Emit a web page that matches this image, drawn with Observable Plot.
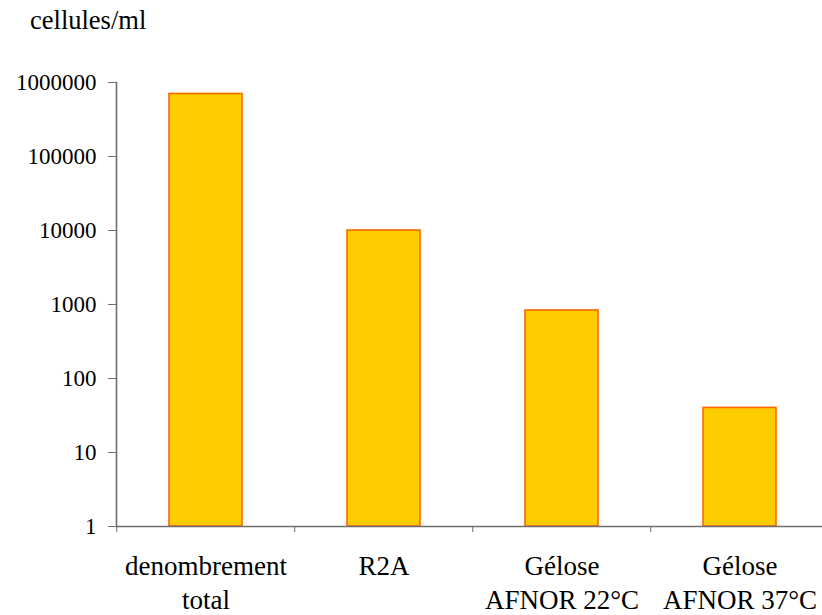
<!DOCTYPE html>
<html>
<head>
<meta charset="utf-8">
<script src="https://cdn.jsdelivr.net/npm/d3@7"></script>
<script src="https://cdn.jsdelivr.net/npm/@observablehq/plot@0.6"></script>
<style>
  #wrap, #wrap *, #wrap svg text, #wrap svg tspan, #wrap svg g { font-family: 'Liberation Serif', serif !important; }
</style>
</head>
<body style="margin:0;background:#fff">
<div id="wrap" style="position:relative;width:822px;height:615px">
  <div id="chart" style="position:absolute;left:0;top:0"></div>
  <div id="ylabel" style="position:absolute;left:30px;top:7px;font-size:26.5px;line-height:1;color:#000;font-family:'Liberation Serif',serif !important">cellules/ml</div>
</div>
<script>
const categories = ["denombrement\ntotal", "R2A", "Gélose\nAFNOR 22°C", "Gélose\nAFNOR 37°C"];
const values = [700000, 10000, 830, 40];
const yTicks = [1, 10, 100, 1000, 10000, 100000, 1000000];
const yTickLabels = ["1", "10", "100", "1000", "10000", "100000", "1000000"];

const data = categories.map((c, i) => ({cat: c, value: values[i]}));

const xRange = [115, 829];
const step = (xRange[1] - xRange[0]) / categories.length;
const axisColor = "#6e6e6e";
const serif = "Liberation Serif, serif";

const chart = Plot.plot({
  width: 822,
  height: 615,
  marginTop: 82,
  marginBottom: 89,
  marginLeft: 116,
  marginRight: 0,
  style: {fontFamily: serif, color: "#000", background: "transparent"},
  x: {domain: categories, range: xRange, paddingInner: 0.59, paddingOuter: 0.295},
  y: {type: "log", domain: [1, 1000000], range: [526, 82]},
  marks: [
    Plot.barY(data, {x: "cat", y1: 1, y2: "value", fill: "#FFCC00", stroke: "#FF6600", strokeWidth: 1.6}),
    Plot.ruleY([1], {stroke: axisColor, strokeWidth: 1.6}),
    Plot.frame({anchor: "left", stroke: axisColor, strokeWidth: 1.6}),
    Plot.axisY({ticks: yTicks, tickFormat: d => yTickLabels[yTicks.indexOf(d)], tickSize: 8, tickPadding: 12, fontSize: 23, fontFamily: serif, stroke: axisColor, fill: "#000", label: null}),
    Plot.axisX({tickSize: 0, tickPadding: 25, fontSize: 27, fontFamily: serif, lineHeight: 1.25, fill: "#000", label: null}),
    Plot.axisX({tickSize: 6, tickFormat: () => "", dx: -step / 2, stroke: axisColor, label: null})
  ]
});
document.getElementById("chart").appendChild(chart);
</script>
</body>
</html>
